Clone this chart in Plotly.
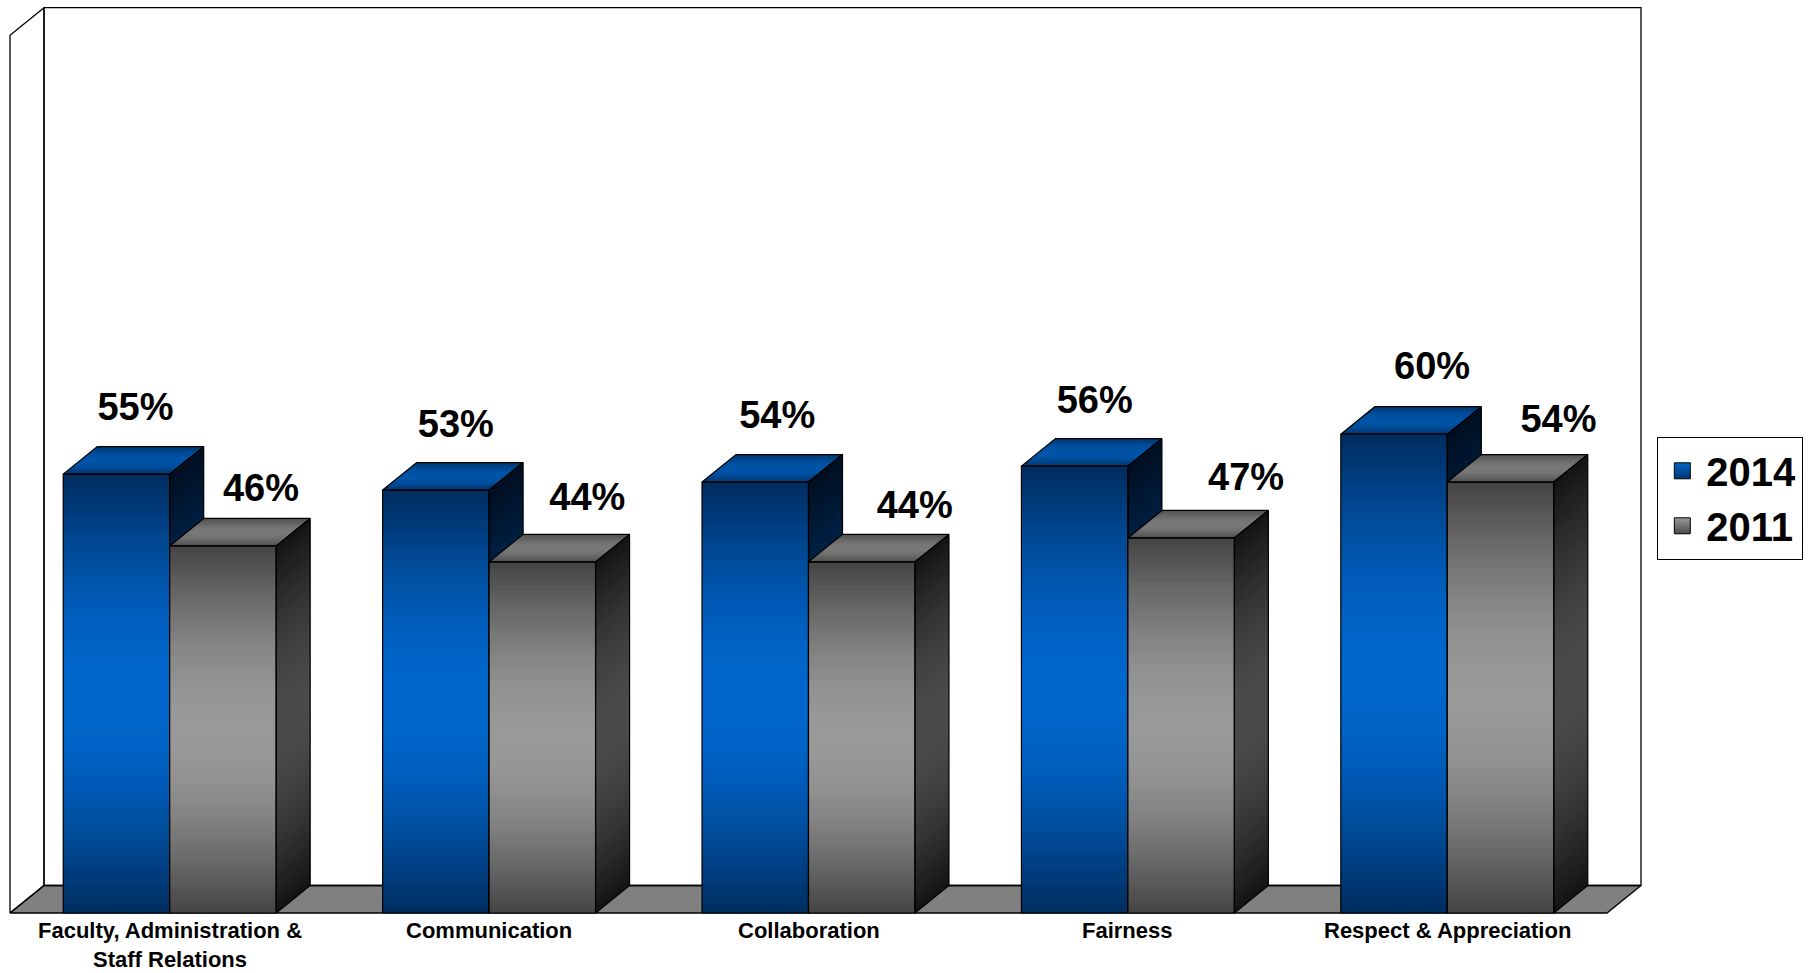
import numpy as np
import plotly.graph_objects as go

# ---------------- data ----------------
categories = ["Faculty, Administration &<br>Staff Relations", "Communication",
              "Collaboration", "Fairness", "Respect & Appreciation"]
series_names = ["2014", "2011"]
values_2014 = [55, 53, 54, 56, 60]
values_2011 = [46, 44, 44, 47, 54]
y_max = 110  # value-axis maximum (percent)

# ---------------- geometry / styles ----------------
W, H = 1812, 973
X0_PX, CAT_PX = 10.0, 319.4       # pixel of category 0 left edge, px per category
Y0_PX, PCT_PX = 913.0, 7.98       # pixel of 0%, px per percent
x_range = [(0 - X0_PX) / CAT_PX, (W - X0_PX) / CAT_PX]
y_range = [(Y0_PX - H) / PCT_PX, Y0_PX / PCT_PX]
DX = 34.0 / CAT_PX                # 3-D depth offset (category units)
DY = 27.5 / PCT_PX                # 3-D depth offset (percent units)
BAR_W = 1.0 / 3.0
FONT = "Liberation Sans, Arial, sans-serif"
N_STRIPS = 60
N_TOP = 20

# nudges (pixels) of the data labels relative to the centre of each bar's top face
label_nudge_x_px = {"2014": [2, 3, 5, 3, 21], "2011": [21, 28, 36, 48, 41]}
label_nudge_y_px = {"2014": [-36, -35, -36, -35, -37], "2011": [-27, -34, -26, -30, -32]}

styles = {
    "2014": dict(front=("#002C5E", "#0066CC"), side=("#000F20", "#002E60"),
                 top=("#003670", "#0054A8"), legend=("#0066CC", "#003570")),
    "2011": dict(front=("#444444", "#999999"), side=("#141414", "#4A4A4A"),
                 top=("#4E4E4E", "#787878"), legend=("#9A9A9A", "#4A4A4A")),
}


def hex2rgb(h):
    h = h.lstrip("#")
    return np.array([int(h[i:i + 2], 16) for i in (0, 2, 4)], dtype=float)


def mix(c_edge, c_mid, f):
    p = np.sin(np.pi * f)
    c = hex2rgb(c_edge) + (hex2rgb(c_mid) - hex2rgb(c_edge)) * p
    return "rgb(%d,%d,%d)" % tuple(np.round(c))


def poly_xy(polys):
    xs, ys = [], []
    for poly in polys:
        for (px, py) in poly:
            xs.append(px)
            ys.append(py)
        xs.append(poly[0][0])
        ys.append(poly[0][1])
        xs.append(None)
        ys.append(None)
    return xs, ys


def fill_trace(polys, color):
    xs, ys = poly_xy(polys)
    return go.Scatter(x=xs, y=ys, mode="lines", fill="toself", fillcolor=color,
                      line=dict(width=0, color="rgba(0,0,0,0)"),
                      hoverinfo="skip", showlegend=False)


def outline_trace(polys, color="black", width=1.2):
    xs, ys = poly_xy(polys)
    return go.Scatter(x=xs, y=ys, mode="lines", line=dict(color=color, width=width),
                      hoverinfo="skip", showlegend=False)


fig = go.Figure()
n_cat = len(categories)

# ---------------- walls and floor ----------------
back_wall = [(DX, DY), (n_cat + DX, DY), (n_cat + DX, y_max + DY), (DX, y_max + DY)]
left_wall = [(0, 0), (DX, DY), (DX, y_max + DY), (0, y_max)]
floor = [(0, 0), (n_cat, 0), (n_cat + DX, DY), (DX, DY)]
fig.add_trace(fill_trace([back_wall, left_wall], "white"))
fig.add_trace(fill_trace([floor], "#808080"))
fig.add_trace(outline_trace([back_wall, left_wall, floor], "black", 1.3))

# ---------------- 3-D bars ----------------
series_values = [values_2014, values_2011]
for s, (name, vals) in enumerate(zip(series_names, series_values)):
    st = styles[name]
    lefts = [i + BAR_W / 2 + s * BAR_W for i in range(n_cat)]
    # front faces (vertical gradient)
    for k in range(N_STRIPS):
        f0, f1 = k / N_STRIPS, min(1.0, (k + 1.6) / N_STRIPS)
        col = mix(*st["front"], (k + 0.5) / N_STRIPS)
        polys = []
        for x0, v in zip(lefts, vals):
            polys.append([(x0, v * f0), (x0 + BAR_W, v * f0), (x0 + BAR_W, v * f1), (x0, v * f1)])
        fig.add_trace(fill_trace(polys, col))
    # side faces
    for k in range(N_STRIPS):
        f0, f1 = k / N_STRIPS, min(1.0, (k + 1.6) / N_STRIPS)
        col = mix(*st["side"], (k + 0.5) / N_STRIPS)
        polys = []
        for x0, v in zip(lefts, vals):
            xr = x0 + BAR_W
            polys.append([(xr, v * f0), (xr + DX, v * f0 + DY), (xr + DX, v * f1 + DY), (xr, v * f1)])
        fig.add_trace(fill_trace(polys, col))
    # top faces (gradient along depth)
    for k in range(N_TOP):
        t0, t1 = k / N_TOP, min(1.0, (k + 1.6) / N_TOP)
        col = mix(*st["top"], (k + 0.5) / N_TOP)
        polys = []
        for x0, v in zip(lefts, vals):
            polys.append([(x0 + DX * t0, v + DY * t0), (x0 + BAR_W + DX * t0, v + DY * t0),
                          (x0 + BAR_W + DX * t1, v + DY * t1), (x0 + DX * t1, v + DY * t1)])
        fig.add_trace(fill_trace(polys, col))
    # outlines
    outl = []
    for x0, v in zip(lefts, vals):
        x1 = x0 + BAR_W
        outl.append([(x0, 0), (x1, 0), (x1, v), (x0, v)])
        outl.append([(x1, 0), (x1 + DX, DY), (x1 + DX, v + DY), (x1, v)])
        outl.append([(x0, v), (x1, v), (x1 + DX, v + DY), (x0 + DX, v + DY)])
    fig.add_trace(outline_trace(outl, "black", 1.2))
    # data labels
    nx, ny = label_nudge_x_px[name], label_nudge_y_px[name]
    fig.add_trace(go.Scatter(
        x=[x0 + BAR_W / 2 + DX / 2 + nx[i] / CAT_PX for i, x0 in enumerate(lefts)],
        y=[v + DY - ny[i] / PCT_PX for i, v in enumerate(vals)],
        mode="text", text=["<b>%d%%</b>" % v for v in vals],
        textposition="middle center",
        textfont=dict(family=FONT, size=38, color="black"),
        hoverinfo="skip", showlegend=False))

# ---------------- legend entries ----------------
for name in series_names:
    c_main, c_grad = styles[name]["legend"]
    fig.add_trace(go.Scatter(
        x=[None], y=[None], mode="markers", name="<b>%s</b>" % name,
        marker=dict(symbol="square", size=16, color=c_main,
                    gradient=dict(type="vertical", color=c_grad),
                    line=dict(color="black", width=1)),
        legendgroup="series"))

# ---------------- category labels ----------------
for i, cat in enumerate(categories):
    fig.add_annotation(x=i + 0.5, y=0, xref="x", yref="y", text="<b>%s</b>" % cat,
                       showarrow=False, yanchor="top", xanchor="center", yshift=-4,
                       borderpad=0,
                       font=dict(family=FONT, size=22, color="black"))

fig.update_layout(
    width=W, height=H,
    margin=dict(l=0, r=0, t=0, b=0),
    paper_bgcolor="white", plot_bgcolor="white",
    xaxis=dict(range=x_range, visible=False, fixedrange=True),
    yaxis=dict(range=y_range, visible=False, fixedrange=True),
    showlegend=True,
    legend=dict(x=1657 / W, y=1 - 437 / H,
                xanchor="left", yanchor="top",
                bordercolor="black", borderwidth=1.3, bgcolor="white",
                font=dict(family=FONT, size=40, color="black"),
                itemsizing="trace", itemwidth=38, tracegroupgap=0),
)

fig.write_html(
    "out.html",
    config={"displayModeBar": False},
    post_script="document.body.style.margin='0px';document.body.style.overflow='hidden';",
)
